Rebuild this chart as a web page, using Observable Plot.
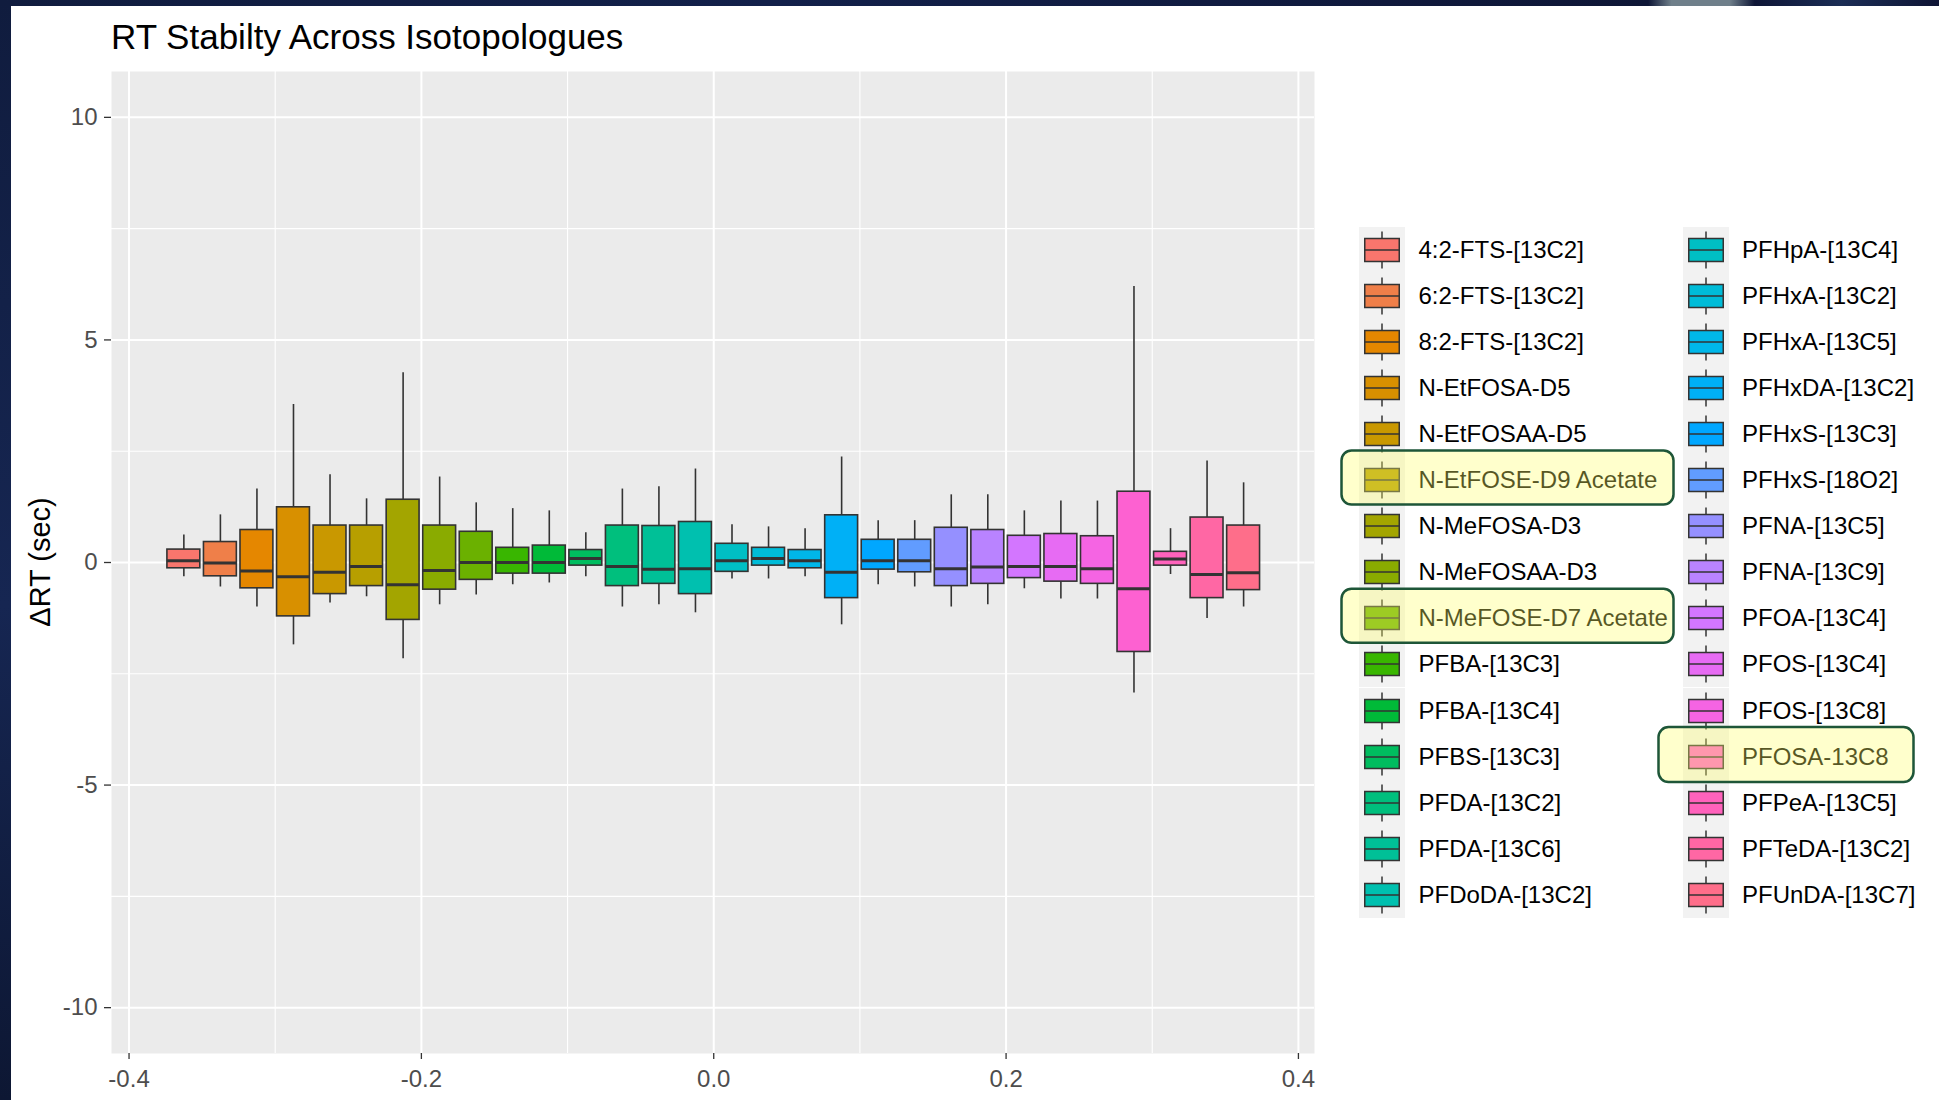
<!DOCTYPE html>
<html>
<head>
<meta charset="utf-8">
<script src="https://cdn.jsdelivr.net/npm/d3@7"></script>
<script src="https://cdn.jsdelivr.net/npm/@observablehq/plot@0.6"></script>
<style>
  html, body { margin: 0; padding: 0; background: #ffffff; }
  #page { position: relative; width: 1939px; height: 1100px; overflow: hidden; background: #ffffff;
          font-family: "Liberation Sans", Arial, sans-serif; }
  #chart { position: absolute; left: 0; top: 0; }
  #legend { position: absolute; left: 0; top: 0; }
  .lg-item { position: absolute; height: 46px; display: flex; align-items: center; }
  .lg-key { width: 46px; height: 46px; background: #F2F2F2; flex: none; }
  .lg-label { margin-left: 13.5px; font-size: 24px; color: #000; white-space: nowrap; line-height: 46px; }
  #overlay { position: absolute; left: 0; top: 0; pointer-events: none; }
  #borderLeft { position: absolute; left: 0; top: 0; width: 11px; height: 1100px;
     background: linear-gradient(180deg, #101c3e 0%, #162652 55%, #0d1733 100%); }
  #borderTop { position: absolute; left: 0; top: 0; width: 1939px; height: 6px;
     background: linear-gradient(90deg, #101c3e 0%, #12204a 40%, #0e1636 85%, #6f7f8a 86.2%, #6f7f8a 89.2%, #0e1636 90.5%, #1b2d55 95%, #0e1434 100%); }
</style>
</head>
<body>
<div id="page">
  <div id="chart"></div>
  <div id="legend"></div>
  <svg id="overlay" width="1939" height="1100"></svg>
  <div id="borderLeft"></div>
  <div id="borderTop"></div>
</div>
<script>
// ---------------- data ----------------
const names = ["4:2-FTS-[13C2]","6:2-FTS-[13C2]","8:2-FTS-[13C2]","N-EtFOSA-D5","N-EtFOSAA-D5",
  "N-EtFOSE-D9 Acetate","N-MeFOSA-D3","N-MeFOSAA-D3","N-MeFOSE-D7 Acetate","PFBA-[13C3]",
  "PFBA-[13C4]","PFBS-[13C3]","PFDA-[13C2]","PFDA-[13C6]","PFDoDA-[13C2]",
  "PFHpA-[13C4]","PFHxA-[13C2]","PFHxA-[13C5]","PFHxDA-[13C2]","PFHxS-[13C3]",
  "PFHxS-[18O2]","PFNA-[13C5]","PFNA-[13C9]","PFOA-[13C4]","PFOS-[13C4]",
  "PFOS-[13C8]","PFOSA-13C8","PFPeA-[13C5]","PFTeDA-[13C2]","PFUnDA-[13C7]"];

const whiskerHigh = [0.62,1.07,1.65,3.55,1.97,1.43,4.26,1.92,1.34,1.21,1.16,0.67,1.65,1.70,2.10,
  0.85,0.80,0.76,2.37,0.94,0.94,1.52,1.52,1.16,1.38,1.38,6.20,0.76,2.28,1.79];
const q3 = [0.29,0.46,0.73,1.24,0.83,0.83,1.41,0.83,0.69,0.33,0.38,0.28,0.83,0.82,0.91,
  0.42,0.33,0.28,1.06,0.51,0.51,0.78,0.73,0.60,0.64,0.59,1.59,0.24,1.01,0.83];
const median = [0.04,-0.01,-0.19,-0.32,-0.22,-0.09,-0.50,-0.18,0.00,0.00,0.00,0.09,-0.09,-0.15,-0.14,
  0.04,0.09,0.04,-0.22,0.04,0.04,-0.14,-0.10,-0.09,-0.09,-0.14,-0.59,0.08,-0.27,-0.23];
const q1 = [-0.13,-0.31,-0.58,-1.21,-0.71,-0.53,-1.29,-0.61,-0.39,-0.25,-0.25,-0.07,-0.53,-0.48,-0.71,
  -0.21,-0.07,-0.13,-0.80,-0.16,-0.22,-0.53,-0.48,-0.35,-0.43,-0.48,-2.01,-0.07,-0.80,-0.62];
const whiskerLow = [-0.32,-0.55,-1.00,-1.85,-0.91,-0.77,-2.16,-0.95,-0.73,-0.50,-0.46,-0.32,-1.00,-0.95,-1.13,
  -0.37,-0.37,-0.32,-1.40,-0.50,-0.55,-1.00,-0.95,-0.59,-0.82,-0.82,-2.93,-0.27,-1.26,-1.00];

const xTicks = [-0.4, -0.2, 0.0, 0.2, 0.4];
const xMinor = [-0.3, -0.1, 0.1, 0.3];
const yTicks = [-10, -5, 0, 5, 10];
const yMinor = [-7.5, -2.5, 2.5, 7.5];

const highlighted = ["N-EtFOSE-D9 Acetate", "N-MeFOSE-D7 Acetate", "PFOSA-13C8"];

// ---------------- ggplot-like hue palette (polar LUV) ----------------
function hclLuv(h, c, l) {
  const hr = h * Math.PI / 180;
  const U = c * Math.cos(hr), V = c * Math.sin(hr);
  const Xn = 95.047, Yn = 100, Zn = 108.883;
  const den = Xn + 15 * Yn + 3 * Zn;
  const un = 4 * Xn / den, vn = 9 * Yn / den;
  const Y = Yn * (l > 7.999592 ? Math.pow((l + 16) / 116, 3) : l / 903.3);
  const u = U / (13 * l) + un, v = V / (13 * l) + vn;
  const X = 9 * Y * u / (4 * v);
  const Z = -X / 3 - 5 * Y + 3 * Y / v;
  const x = X / 100, y = Y / 100, z = Z / 100;
  const lin = [
    3.240479 * x - 1.537150 * y - 0.498535 * z,
    -0.969256 * x + 1.875992 * y + 0.041556 * z,
    0.055648 * x - 0.204043 * y + 1.057311 * z
  ];
  const g = lin.map(t => {
    const s = t <= 0.0031308 ? 12.92 * t : 1.055 * Math.pow(t, 1 / 2.4) - 0.055;
    return Math.round(Math.max(0, Math.min(1, s)) * 255);
  });
  return "#" + g.map(n => n.toString(16).padStart(2, "0")).join("");
}
const n = names.length;
const palette = names.map((_, i) => hclLuv(15 + i * 360 / n, 100, 65));

// ---------------- dodge layout (ggplot position_dodge2 on a single x) ----------------
const dodgeWidth = 0.75, padding = 0.1;
const slot = dodgeWidth / n;
const boxes = names.map((name, i) => {
  const xc = -dodgeWidth / 2 + (i + 0.5) * slot;
  const hw = slot * (1 - padding) / 2;
  return { name, xc, x1: xc - hw, x2: xc + hw,
           lo: whiskerLow[i], q1: q1[i], med: median[i], q3: q3[i], hi: whiskerHigh[i] };
});

// ---------------- main chart ----------------
const chart = Plot.plot({
  width: 1340,
  height: 1100,
  marginLeft: 111,
  marginRight: 26,
  marginTop: 71,
  marginBottom: 47,
  style: { background: "transparent", fontFamily: "'Liberation Sans', Arial, sans-serif", overflow: "visible" },
  x: { domain: [-0.412, 0.411] },
  y: { domain: [-11.03, 11.03] },
  color: { domain: names, range: palette },
  marks: [
    Plot.frame({ fill: "#EBEBEB", stroke: "none" }),
    Plot.ruleX(xMinor, { stroke: "#ffffff", strokeWidth: 1.1 }),
    Plot.ruleY(yMinor, { stroke: "#ffffff", strokeWidth: 1.1 }),
    Plot.ruleX(xTicks, { stroke: "#ffffff", strokeWidth: 2 }),
    Plot.ruleY(yTicks, { stroke: "#ffffff", strokeWidth: 2 }),
    Plot.ruleX(boxes, { x: "xc", y1: "lo", y2: "hi", stroke: "#333333", strokeWidth: 1.6 }),
    Plot.rect(boxes, { x1: "x1", x2: "x2", y1: "q1", y2: "q3", fill: "name", stroke: "#333333", strokeWidth: 1.6 }),
    Plot.ruleY(boxes, { y: "med", x1: "x1", x2: "x2", stroke: "#333333", strokeWidth: 3 }),
    Plot.axisX({ ticks: xTicks, tickFormat: d => d.toFixed(1), tickSize: 6, tickPadding: 10,
                 fontSize: 24, color: "#4D4D4D", stroke: "#333333", strokeWidth: 1.3, label: null }),
    Plot.axisY({ ticks: yTicks, tickFormat: d => String(d), tickSize: 7, tickPadding: 7,
                 fontSize: 24, color: "#4D4D4D", stroke: "#333333", strokeWidth: 1.3, label: null })
  ]
});
document.getElementById("chart").appendChild(chart);

// ---------------- legend ----------------
const legend = document.getElementById("legend");
const perCol = 15, colLeft = [1359, 1682.5], rowTop = 226.5, rowStep = 46.1;
names.forEach((name, i) => {
  const col = Math.floor(i / perCol), row = i % perCol;
  const item = document.createElement("div");
  item.className = "lg-item";
  item.style.left = colLeft[col] + "px";
  item.style.top = (rowTop + row * rowStep) + "px";
  const key = document.createElement("div");
  key.className = "lg-key";
  key.innerHTML =
    `<svg width="46" height="46">` +
    `<line x1="23" x2="23" y1="4.6" y2="41.4" stroke="#333333" stroke-width="1.5"/>` +
    `<rect x="5.75" y="11.5" width="34.5" height="23" fill="${palette[i]}" stroke="#333333" stroke-width="1.5"/>` +
    `<line x1="5.75" x2="40.25" y1="23" y2="23" stroke="#333333" stroke-width="1.5"/>` +
    `</svg>`;
  const label = document.createElement("div");
  label.className = "lg-label";
  label.textContent = name;
  item.appendChild(key);
  item.appendChild(label);
  legend.appendChild(item);
});

// ---------------- overlay: title, axis title, highlight callouts ----------------
const ov = d3.select("#overlay");
ov.append("text").attr("x", 111).attr("y", 49)
  .attr("font-family", "'Liberation Sans', Arial, sans-serif").attr("font-size", 35).attr("fill", "#000")
  .text("RT Stabilty Across Isotopologues");
ov.append("text").attr("transform", "translate(50,562) rotate(-90)").attr("text-anchor", "middle")
  .attr("font-family", "'Liberation Sans', Arial, sans-serif").attr("font-size", 29).attr("fill", "#000")
  .text("ΔRT (sec)");

const hlBoxes = highlighted.map(name => {
  const i = names.indexOf(name);
  const col = Math.floor(i / perCol), row = i % perCol;
  const cy = rowTop + row * rowStep + 23;
  return col === 0
    ? { x: 1341.5, y: cy - 29.5, w: 332, h: 54 }
    : { x: 1658.5, y: cy - 29.5, w: 255, h: 55 };
});
ov.selectAll("rect.hl").data(hlBoxes).join("rect").attr("class", "hl")
  .attr("x", d => d.x).attr("y", d => d.y).attr("width", d => d.w).attr("height", d => d.h)
  .attr("rx", 10).attr("ry", 10)
  .attr("fill", "rgba(255,255,105,0.34)").attr("stroke", "#1E5638").attr("stroke-width", 2.5);
</script>
</body>
</html>
